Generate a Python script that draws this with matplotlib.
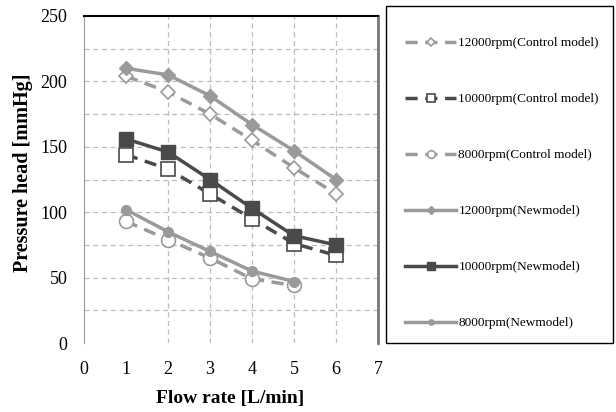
import matplotlib.pyplot as plt
from matplotlib.patches import Rectangle
import numpy as np

# --- DATA ---
flow = [1, 2, 3, 4, 5, 6]
flow_8000 = [1, 2, 3, 4, 5]

ctrl_12000 = [204, 192, 175, 155, 134, 114]
ctrl_10000 = [144, 133, 114, 95, 76, 67]
ctrl_8000 = [93, 79, 65, 49, 44]

new_12000 = [210, 205, 189, 167, 147, 125]
new_10000 = [156, 146, 125, 103, 82, 75]
new_8000 = [102, 85, 70, 55, 47]

LIGHT = '#9a9a9a'
DARK = '#4a4a4a'

plt.rcParams['font.family'] = ['Liberation Serif', 'DejaVu Serif']

fig = plt.figure(figsize=(6.16, 4.12), dpi=100)
ax = fig.add_axes([84 / 616, 1 - 343 / 412, 294 / 616, 327 / 412])

# gridlines
for yv in np.arange(25, 250, 25):
    ax.axhline(yv, color='#bdbdbd', lw=0.9, ls=(0, (4, 3)), zorder=0)
for xv in [2, 3, 4, 5, 6]:
    ax.axvline(xv, color='#bdbdbd', lw=0.9, ls=(0, (4, 3)), zorder=0)

dash = (0, (3.5, 2.2))
ax.plot(flow, ctrl_12000, color=LIGHT, lw=2.5, ls=dash, marker='D', ms=7,
        mfc='white', mec=LIGHT, mew=1.2, label='12000rpm(Control model)')
ax.plot(flow, ctrl_10000, color=DARK, lw=2.5, ls=dash, marker='s', ms=10,
        mfc='white', mec=DARK, mew=1.2, label='10000rpm(Control model)')
ax.plot(flow_8000, ctrl_8000, color=LIGHT, lw=2.5, ls=dash, marker='o', ms=10,
        mfc='white', mec=LIGHT, mew=1.2, label='8000rpm(Control model)')
ax.plot(flow, new_12000, color=LIGHT, lw=2.5, marker='D', ms=7,
        mfc=LIGHT, mec=LIGHT, label='12000rpm(Newmodel)')
ax.plot(flow, new_10000, color=DARK, lw=2.5, marker='s', ms=10,
        mfc=DARK, mec=DARK, label='10000rpm(Newmodel)')
ax.plot(flow_8000, new_8000, color=LIGHT, lw=2.5, marker='o', ms=7,
        mfc=LIGHT, mec=LIGHT, label='8000rpm(Newmodel)')

ax.set_xlim(0, 7)
ax.set_ylim(0, 250)
ax.set_xticks(range(0, 8))
ax.set_yticks(range(0, 251, 50))
ax.tick_params(length=0, labelsize=13)
ax.tick_params(axis='y', pad=12)
ax.tick_params(axis='x', pad=13)

ax.spines['bottom'].set_visible(False)
ax.spines['left'].set_color('#999999')
ax.spines['top'].set_color('black')
ax.spines['top'].set_linewidth(1.5)
ax.spines['right'].set_color('#777777')
ax.spines['right'].set_linewidth(2)

fig.text(230 / 616, 1 - 398 / 412, 'Flow rate [L/min]', ha='center', va='center',
         fontsize=14, fontweight='bold')
fig.text(23 / 616, 1 - 173 / 412, 'Pressure head [mmHg]', ha='center', va='center',
         rotation=90, fontsize=14.5, fontweight='bold')

# legend box drawn separately so the entries can be placed freely inside it
fig.patches.append(Rectangle((386 / 616, 1 - 343 / 412), 227 / 616, 337 / 412,
                             transform=fig.transFigure, fill=False,
                             edgecolor='black', lw=1.0))
leg = fig.legend(loc='upper left', fontsize=9.5, frameon=False, labelspacing=3.32,
                 handlelength=3.9, handletextpad=0.15, borderpad=0,
                 borderaxespad=0, markerscale=0.55)
leg.set_bbox_to_anchor((405 / 616, 1 - 37 / 412), transform=fig.transFigure)

plt.savefig('out.png', dpi=100)
